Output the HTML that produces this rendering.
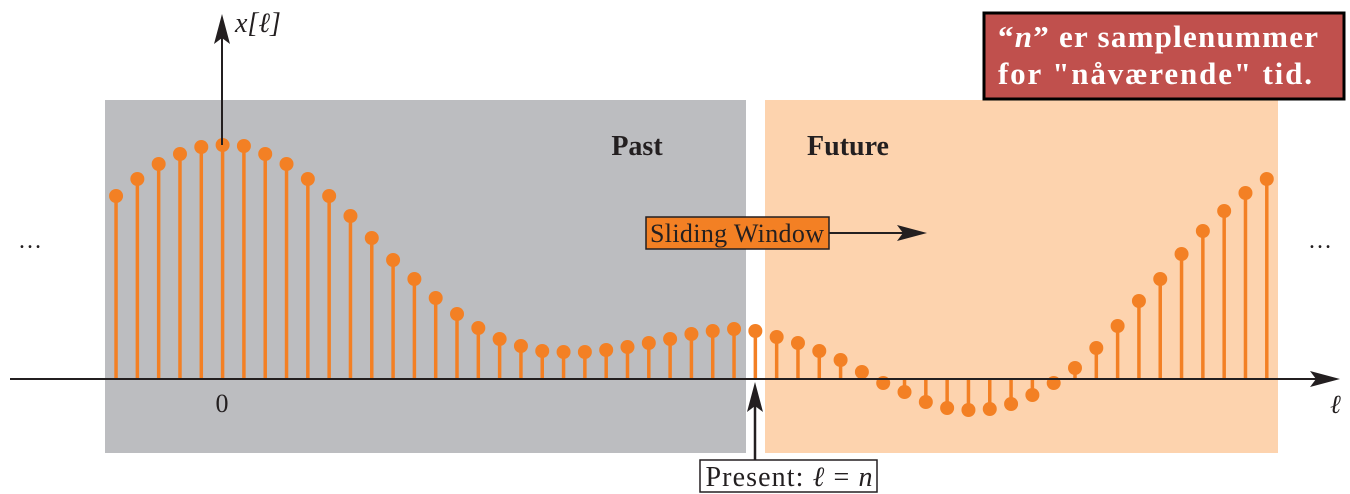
<!DOCTYPE html>
<html><head><meta charset="utf-8"><style>
body{margin:0;background:#fff;}
svg{display:block;font-family:"Liberation Serif",serif;}
</style></head><body>
<svg id="c" width="1350" height="494">
<rect x="105" y="100" width="641" height="353" fill="#bcbdc0"/>
<rect x="765" y="100" width="513" height="353" fill="#fdd3ae"/>
<text x="637" y="155" font-size="28" font-weight="bold" text-anchor="middle" fill="#231f20">Past</text>
<text x="848" y="155" font-size="28" font-weight="bold" text-anchor="middle" fill="#231f20">Future</text>
<g id="stems"></g>
<line x1="10" y1="379" x2="1325" y2="379" stroke="#231f20" stroke-width="2"/>
<polygon points="1340,379 1310,371 1316,379 1310,387" fill="#231f20"/>
<line x1="222" y1="145" x2="222" y2="30" stroke="#231f20" stroke-width="2"/>
<polygon points="222,14 214,44 222,38 230,44" fill="#231f20"/>
<text x="235" y="32" font-size="28" font-style="italic" fill="#231f20">x[ℓ]</text>
<text x="1330" y="413" font-size="26" font-style="italic" fill="#231f20">ℓ</text>
<text x="222" y="412" font-size="26" text-anchor="middle" fill="#231f20">0</text>
<text x="30" y="248" font-size="24" text-anchor="middle" fill="#231f20">…</text>
<text x="1320" y="248" font-size="24" text-anchor="middle" fill="#231f20">…</text>
<rect x="646" y="217" width="183" height="32" fill="#f38024" stroke="#231f20" stroke-width="1.5"/>
<text x="737" y="242" font-size="26" text-anchor="middle" fill="#231f20" textLength="174">Sliding Window</text>
<line x1="829" y1="233" x2="905" y2="233" stroke="#231f20" stroke-width="2"/>
<polygon points="927,233 897,225 903,233 897,241" fill="#231f20"/>
<line x1="755" y1="400" x2="755" y2="460" stroke="#231f20" stroke-width="2.5"/>
<polygon points="755,382 747,412 755,406 763,412" fill="#231f20"/>
<rect x="700" y="460" width="177" height="32" fill="#fff" stroke="#231f20" stroke-width="1.5"/>
<text x="789" y="486" font-size="28" text-anchor="middle" fill="#231f20" textLength="167">Present: <tspan font-style="italic">ℓ</tspan> = <tspan font-style="italic">n</tspan></text>
<rect x="984" y="13" width="360" height="86" fill="#c0504d" stroke="#000" stroke-width="3"/>
<text x="998" y="47" font-size="31" font-weight="bold" fill="#fff" textLength="320">“<tspan font-style="italic">n</tspan>” er samplenummer</text>
<text x="998" y="84" font-size="31" font-weight="bold" fill="#fff" textLength="314">for "nåværende" tid.</text>
</svg>
<script>
const sampleIndex = [];
for (let i = -5; i <= 49; i++) sampleIndex.push(i);
const sampleValues = [1.83,2.00,2.15,2.25,2.32,2.34,2.33,2.25,2.15,2.00,1.83,1.63,1.41,1.19,1.00,0.81,0.65,0.51,0.40,0.33,0.28,0.27,0.27,0.29,0.32,0.36,0.40,0.45,0.48,0.50,0.48,0.42,0.36,0.28,0.19,0.07,-0.04,-0.13,-0.23,-0.29,-0.31,-0.30,-0.25,-0.16,-0.04,0.11,0.31,0.53,0.78,1.00,1.25,1.48,1.68,1.86,2.00];
const xScale = l => 222.6 + l * 21.31;
const yScale = v => 379 - v * 100;
const g = document.getElementById('stems');
const NS = 'http://www.w3.org/2000/svg';
sampleIndex.forEach((l, i) => {
  const x = xScale(l), y = yScale(sampleValues[i]);
  const ln = document.createElementNS(NS, 'line');
  ln.setAttribute('x1', x); ln.setAttribute('x2', x);
  ln.setAttribute('y1', 379); ln.setAttribute('y2', y);
  ln.setAttribute('stroke', '#f38024'); ln.setAttribute('stroke-width', '3.5');
  
  
  g.appendChild(ln);
  const c = document.createElementNS(NS, 'circle');
  c.setAttribute('cx', x); c.setAttribute('cy', y); c.setAttribute('r', 7);
  c.setAttribute('fill', '#f38024');
  
  
  g.appendChild(c);
});
</script>
</body></html>
